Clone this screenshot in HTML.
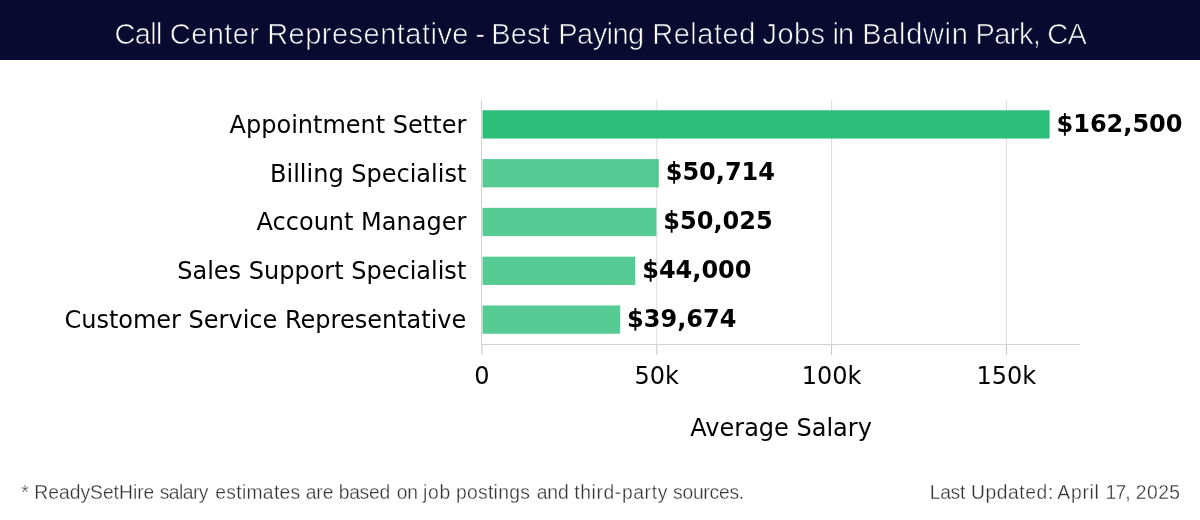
<!DOCTYPE html>
<html lang="en">
<head>
<meta charset="utf-8">
<title>Call Center Representative - Best Paying Related Jobs in Baldwin Park, CA</title>
<style>
html,body{margin:0;padding:0;background:#fff;}
body{width:1200px;height:520px;overflow:hidden;}
svg{display:block;}
.t{font-family:"Liberation Sans","DejaVu Sans",sans-serif;}
.d{font-family:"DejaVu Sans","Liberation Sans",sans-serif;}
</style>
</head>
<body>
<svg width="1200" height="520" viewBox="0 0 1200 520">
  <rect x="0" y="0" width="1200" height="520" fill="#ffffff"/>
  <rect x="0" y="0" width="1200" height="60" fill="#0a0a31"/>
  <text class="t" y="44" font-size="29" fill="#ffffff" stroke="#0a0a31" stroke-width="0.7"><tspan x="114.5" letter-spacing="-0.67">Call</tspan> <tspan x="169.8" letter-spacing="0.4">Center</tspan> <tspan x="267.2" letter-spacing="0.48">Representative</tspan> <tspan x="475.5">-</tspan> <tspan x="491.3" letter-spacing="0.07">Best</tspan> <tspan x="558.3" letter-spacing="-0.56">Paying</tspan> <tspan x="652.2" letter-spacing="0.52">Related</tspan> <tspan x="762.5" letter-spacing="0.4">Jobs</tspan> <tspan x="832.4" letter-spacing="-0.8">in</tspan> <tspan x="862.2" letter-spacing="0.68">Baldwin</tspan> <tspan x="975.5" letter-spacing="-0.57">Park,</tspan> <tspan x="1047.25" letter-spacing="-0.8">CA</tspan></text>

  <!-- gridlines -->
  <g stroke="#dcdcdc" stroke-width="1">
    <line x1="656.8" y1="100" x2="656.8" y2="344"/>
    <line x1="831.6" y1="100" x2="831.6" y2="344"/>
    <line x1="1006.4" y1="100" x2="1006.4" y2="344"/>
  </g>
  <!-- axis lines and ticks -->
  <g stroke="#d2d2d2" stroke-width="1">
    <line x1="481.5" y1="100" x2="481.5" y2="345"/>
    <line x1="481" y1="344.5" x2="1080" y2="344.5"/>
  </g>
  <g stroke="#c4c4c4" stroke-width="1">
    <line x1="482" y1="345" x2="482" y2="355"/>
    <line x1="656.8" y1="345" x2="656.8" y2="355"/>
    <line x1="831.6" y1="345" x2="831.6" y2="355"/>
    <line x1="1006.4" y1="345" x2="1006.4" y2="355"/>
  </g>

  <!-- bars -->
  <g>
    <rect x="482.5" y="110.26" width="567.10" height="28.28" fill="#2cbe78"/>
    <rect x="482.5" y="159.06" width="176.30" height="28.28" fill="#2cbe78" fill-opacity="0.8"/>
    <rect x="482.5" y="207.86" width="173.89" height="28.28" fill="#2cbe78" fill-opacity="0.8"/>
    <rect x="482.5" y="256.66" width="152.82" height="28.28" fill="#2cbe78" fill-opacity="0.8"/>
    <rect x="482.5" y="305.46" width="137.70" height="28.28" fill="#2cbe78" fill-opacity="0.8"/>
  </g>

  <!-- category labels -->
  <g class="d" font-size="24" fill="#000000" text-anchor="end">
    <text x="466.3" y="132.7">Appointment Setter</text>
    <text x="466.3" y="181.5">Billing Specialist</text>
    <text x="466.3" y="230.3">Account Manager</text>
    <text x="466.3" y="279.1">Sales Support Specialist</text>
    <text x="466.3" y="327.9">Customer Service Representative</text>
  </g>

  <!-- value labels -->
  <g class="d" font-size="24" font-weight="bold" fill="#000000">
    <text x="1056.5" y="131.6">$162,500</text>
    <text x="665.7" y="180.4">$50,714</text>
    <text x="663.3" y="229.2">$50,025</text>
    <text x="642.2" y="278.0">$44,000</text>
    <text x="627.1" y="326.8">$39,674</text>
  </g>

  <!-- x tick labels -->
  <g class="d" font-size="24" fill="#000000" text-anchor="middle">
    <text x="482" y="383.6">0</text>
    <text x="656.8" y="383.6">50k</text>
    <text x="831.6" y="383.6">100k</text>
    <text x="1006.4" y="383.6">150k</text>
  </g>
  <text class="d" x="781.1" y="436" font-size="24" fill="#000000" text-anchor="middle">Average Salary</text>

  <!-- footer -->
  <text class="t" y="498.75" font-size="19.3" fill="#333333" stroke="#ffffff" stroke-width="0.3"><tspan x="21.25">*</tspan> <tspan x="34.3">ReadySetHire</tspan> <tspan x="159.7" letter-spacing="-0.54">salary</tspan> <tspan x="215.3" letter-spacing="0.3">estimates</tspan> <tspan x="305.8" letter-spacing="-0.15">are</tspan> <tspan x="338.7" letter-spacing="-0.27">based</tspan> <tspan x="396.7" letter-spacing="-0.2">on</tspan> <tspan x="422.9" letter-spacing="0.8">job</tspan> <tspan x="456.0" letter-spacing="0.29">postings</tspan> <tspan x="536.7" letter-spacing="-0.1">and</tspan> <tspan x="574.2" letter-spacing="0.63">third-party</tspan> <tspan x="673.0" letter-spacing="-0.24">sources.</tspan></text>
  <text class="t" y="498.75" font-size="19.3" fill="#333333" stroke="#ffffff" stroke-width="0.3"><tspan x="929.8" letter-spacing="-0.33">Last</tspan> <tspan x="971.0" letter-spacing="0.57">Updated:</tspan> <tspan x="1057.3" letter-spacing="0.75">April</tspan> <tspan x="1105.5" letter-spacing="-0.8">17,</tspan> <tspan x="1135.7" letter-spacing="0.5">2025</tspan></text>
</svg>
</body>
</html>
